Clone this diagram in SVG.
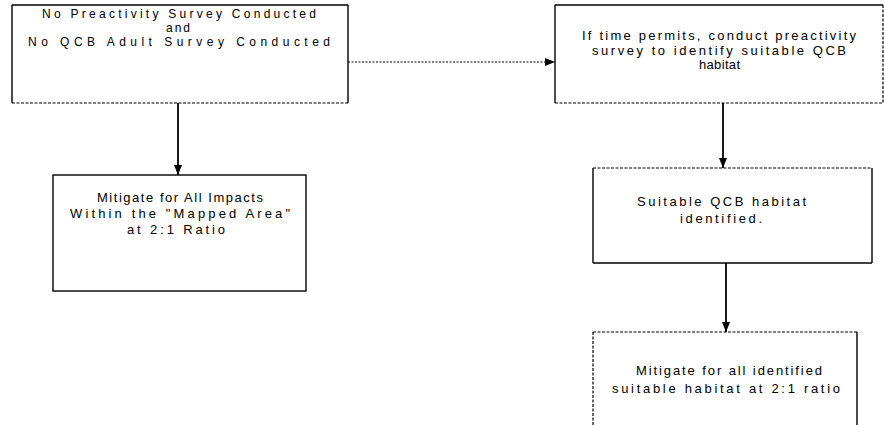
<svg xmlns="http://www.w3.org/2000/svg" width="884" height="425" viewBox="0 0 884 425">
<style>
.e{stroke:#000;stroke-width:1.4;fill:none}
.d{stroke:#000;stroke-width:1.2;fill:none;stroke-dasharray:3 1.5}
.c{stroke:#000;stroke-width:1.8;fill:none}
.cd{stroke:#000;stroke-width:1.2;fill:none;stroke-dasharray:2 1.5}
text{font-family:"Liberation Sans",Arial,sans-serif;font-size:13px;fill:#000;text-anchor:start}
.s{font-size:12px}
</style>
<defs>
<marker id="ah" viewBox="0 0 10 8" refX="10" refY="4" markerWidth="10" markerHeight="8" markerUnits="userSpaceOnUse" orient="auto">
<path d="M0,0 L10,4 L0,8 Z" fill="#000"/>
</marker>
</defs>
<rect width="884" height="425" fill="#fff"/>
<g id="connectors">
<line class="cd" x1="348" y1="62" x2="555" y2="62" marker-end="url(#ah)"/>
<line class="c" x1="178" y1="103" x2="178" y2="175" marker-end="url(#ah)"/>
<line class="c" x1="723" y1="103" x2="723" y2="168" marker-end="url(#ah)"/>
<line class="c" x1="726" y1="263" x2="726" y2="332" marker-end="url(#ah)"/>
</g>
<g id="n1">
<line class="e" x1="12" y1="5" x2="348" y2="5"/>
<line class="e" x1="12" y1="5" x2="12" y2="103"/>
<line class="e" x1="348" y1="5" x2="348" y2="103"/>
<line class="d" x1="12" y1="103" x2="348" y2="103"/>
<text class="s" x="42" y="18" textLength="274" lengthAdjust="spacing">No Preactivity Survey Conducted</text>
<text class="s" x="166" y="32" textLength="24" lengthAdjust="spacing">and</text>
<text class="s" x="28" y="46" textLength="302" lengthAdjust="spacing">No QCB Adult Survey Conducted</text>
</g>
<g id="n2">
<line class="e" x1="555" y1="5" x2="883" y2="5"/>
<line class="e" x1="555" y1="5" x2="555" y2="103"/>
<line class="d" x1="883" y1="5" x2="883" y2="103"/>
<line class="d" x1="555" y1="103" x2="883" y2="103"/>
<text x="582" y="40" textLength="274" lengthAdjust="spacing">If time  permits, conduct preactivity</text>
<text x="592" y="55" textLength="254" lengthAdjust="spacing">survey to identify suitable QCB</text>
<text x="699" y="69" textLength="41" lengthAdjust="spacing">habitat</text>
</g>
<g id="n3">
<rect class="e" x="53" y="175" width="253" height="116"/>
<text x="97" y="202" textLength="166" lengthAdjust="spacing">Mitigate for All Impacts</text>
<text x="70" y="218" textLength="220" lengthAdjust="spacing">Within the "Mapped Area"</text>
<text x="127" y="234" textLength="98" lengthAdjust="spacing">at 2:1 Ratio</text>
</g>
<g id="n4">
<line class="d" x1="593" y1="168" x2="872" y2="168"/>
<line class="e" x1="593" y1="168" x2="593" y2="263"/>
<line class="e" x1="872" y1="168" x2="872" y2="263"/>
<line class="e" x1="593" y1="263" x2="872" y2="263"/>
<text x="637" y="206" textLength="169" lengthAdjust="spacing">Suitable QCB habitat</text>
<text x="680" y="223" textLength="82" lengthAdjust="spacing">identified.</text>
</g>
<g id="n5">
<line class="d" x1="593" y1="332" x2="857" y2="332"/>
<line class="d" x1="593" y1="332" x2="593" y2="425"/>
<line class="e" x1="857" y1="332" x2="857" y2="425"/>
<text x="636" y="375" textLength="186" lengthAdjust="spacing">Mitigate for all identified</text>
<text x="612" y="393" textLength="228" lengthAdjust="spacing">suitable habitat at 2:1 ratio</text>
</g>
</svg>
